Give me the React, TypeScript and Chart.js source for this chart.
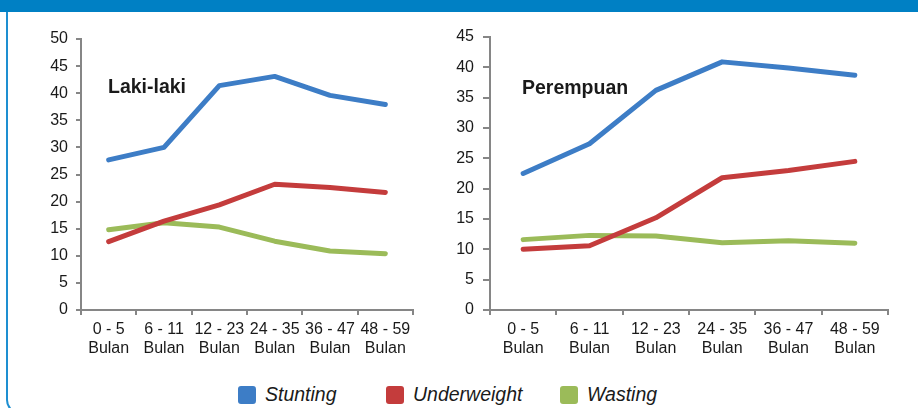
import { useEffect, useRef } from "react";
import { Chart, registerables } from "chart.js";
Chart.register(...registerables);

const categories: string[][] = [
  ["0 - 5", "Bulan"],
  ["6 - 11", "Bulan"],
  ["12 - 23", "Bulan"],
  ["24 - 35", "Bulan"],
  ["36 - 47", "Bulan"],
  ["48 - 59", "Bulan"],
];
const seriesNames = ["Stunting", "Underweight", "Wasting"];
const seriesColors = ["#3D7DC6", "#C43C3C", "#9BBB59"];

const lakiStunting = [27.7, 30.0, 41.4, 43.1, 39.6, 37.9];
const lakiUnderweight = [12.6, 16.4, 19.4, 23.2, 22.6, 21.7];
const lakiWasting = [14.8, 16.1, 15.3, 12.7, 10.9, 10.4];

const perempuanStunting = [22.5, 27.4, 36.2, 40.9, 39.9, 38.7];
const perempuanUnderweight = [10.0, 10.6, 15.2, 21.8, 23.0, 24.5];
const perempuanWasting = [11.6, 12.3, 12.2, 11.1, 11.4, 11.0];

const lakiMax = 50;
const perempuanMax = 45;
const yStep = 5;

const FONT = "'Liberation Sans', Arial, sans-serif";
const AXIS = "#868686";
const TEXT = "#1a1a1a";

type Cfg = {
  values: number[][];
  max: number;
  yWidth: number;
  padTop: number;
  padRight: number;
  xHeight: number;
  tickPad: number;
  yTickLen: number;
};

function LineChart({ cfg, width, height }: { cfg: Cfg; width: number; height: number }) {
  const ref = useRef<HTMLCanvasElement | null>(null);
  useEffect(() => {
    if (!ref.current) return;
    const chart = new Chart(ref.current, {
      type: "line",
      data: {
        labels: categories,
        datasets: cfg.values.map((v, i) => ({
          label: seriesNames[i],
          data: v,
          borderColor: seriesColors[i],
          backgroundColor: seriesColors[i],
          borderWidth: 5,
          pointRadius: 0,
          tension: 0,
          borderCapStyle: "round" as const,
          borderJoinStyle: "round" as const,
        })),
      },
      options: {
        animation: false,
        responsive: false,
        events: [],
        layout: { padding: { top: cfg.padTop, right: cfg.padRight, left: 0, bottom: 0 } },
        plugins: { legend: { display: false }, tooltip: { enabled: false }, title: { display: false } },
        scales: {
          x: {
            type: "category",
            offset: true,
            grid: {
              offset: true,
              drawOnChartArea: false,
              drawTicks: true,
              tickLength: 5,
              color: AXIS,
              lineWidth: 2,
            },
            border: { color: AXIS, width: 2 },
            ticks: {
              color: TEXT,
              font: { family: FONT, size: 16, lineHeight: 1.18 },
              padding: 5,
              maxRotation: 0,
              autoSkip: false,
            },
            afterFit: (s: any) => {
              s.height = cfg.xHeight;
            },
          },
          y: {
            min: 0,
            max: cfg.max,
            grid: {
              drawOnChartArea: false,
              drawTicks: true,
              tickLength: cfg.yTickLen,
              color: AXIS,
              lineWidth: 2,
            },
            border: { color: AXIS, width: 2 },
            ticks: {
              stepSize: yStep,
              color: TEXT,
              font: { family: FONT, size: 16 },
              padding: cfg.tickPad,
            },
            afterFit: (s: any) => {
              s.width = cfg.yWidth;
            },
          },
        },
      },
    });
    return () => chart.destroy();
  }, [cfg]);
  return <canvas ref={ref} width={width} height={height} style={{ width, height, display: "block" }} />;
}

const leftCfg: Cfg = {
  values: [lakiStunting, lakiUnderweight, lakiWasting],
  max: lakiMax,
  yWidth: 81,
  padTop: 39,
  padRight: 37,
  xHeight: 55,
  tickPad: 8,
  yTickLen: 5,
};
const rightCfg: Cfg = {
  values: [perempuanStunting, perempuanUnderweight, perempuanWasting],
  max: perempuanMax,
  yWidth: 50,
  padTop: 37,
  padRight: 30,
  xHeight: 55,
  tickPad: 9,
  yTickLen: 7,
};

export default function App() {
  const panelLabel: React.CSSProperties = {
    position: "absolute",
    fontFamily: FONT,
    fontWeight: "bold",
    fontSize: 19.5,
    color: TEXT,
    lineHeight: 1,
    whiteSpace: "nowrap",
  };
  return (
    <div
      style={{
        position: "fixed",
        left: 0,
        top: 0,
        width: 918,
        height: 408,
        overflow: "hidden",
        background: "#fff",
        fontFamily: FONT,
      }}
    >
      <div
        style={{
          position: "absolute",
          left: 6,
          top: 0,
          width: 940,
          height: 414,
          border: "2px solid #1E8FD1",
          borderBottomLeftRadius: 14,
          boxSizing: "border-box",
        }}
      />
      <div style={{ position: "absolute", left: 0, top: 0, width: 918, height: 12, background: "#0080C4" }} />
      <div style={{ position: "absolute", left: 0, top: 0 }}>
        <LineChart cfg={leftCfg} width={450} height={365} />
      </div>
      <div style={{ position: "absolute", left: 440, top: 0 }}>
        <LineChart cfg={rightCfg} width={478} height={365} />
      </div>
      <div style={{ ...panelLabel, left: 108, top: 77 }}>Laki-laki</div>
      <div style={{ ...panelLabel, left: 522, top: 78 }}>Perempuan</div>
      <div
        style={{
          position: "absolute",
          left: 238,
          top: 385,
          display: "flex",
          alignItems: "center",
          fontStyle: "italic",
          fontSize: 19.5,
          color: TEXT,
          lineHeight: 1,
        }}
      >
        {seriesNames.map((n, i) => (
          <div key={n} style={{ display: "flex", alignItems: "center" }}>
            <span
              style={{
                display: "inline-block",
                width: 18,
                height: 18,
                borderRadius: 3,
                background: seriesColors[i],
                marginRight: 9,
              }}
            />
            <span style={{ display: "inline-block", width: i === 0 ? 121 : i === 1 ? 147 : 80 }}>{n}</span>
          </div>
        ))}
      </div>
    </div>
  );
}
